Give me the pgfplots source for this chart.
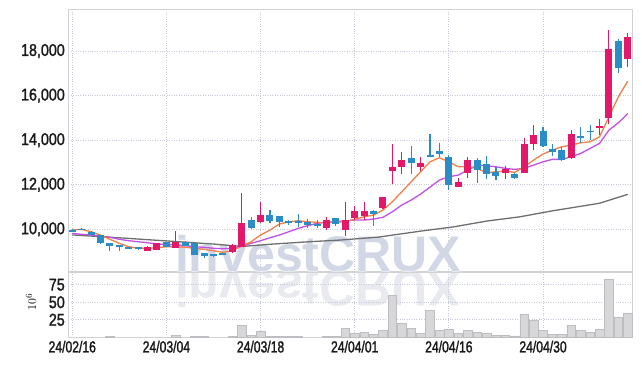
\documentclass[border=0pt]{standalone}
\usepackage{pgfplots}
\pgfplotsset{compat=1.18}
\usepackage{pgfplotstable}
\usepackage{fontspec}
\setmainfont{Liberation Sans}
\newfontfamily\xtickfont{Liberation Sans}[FakeStretch=0.76, FakeBold=1.5]
\newfontfamily\ytickfont{Liberation Sans}[FakeStretch=0.84, FakeBold=1.5]
\newfontfamily\wmfont{Liberation Sans}
\definecolor{upc}{HTML}{E2186A}
\definecolor{dnc}{HTML}{2B8DC6}
\definecolor{maA}{HTML}{EE8048}
\definecolor{maB}{HTML}{C24FE6}
\definecolor{maC}{HTML}{6E6E6E}
\definecolor{gridc}{HTML}{C6CAD8}
\definecolor{framec}{HTML}{D2D2D2}
\definecolor{volf}{HTML}{D7D7DA}
\definecolor{vold}{HTML}{BDBDC2}
\definecolor{wm}{HTML}{D2D7E6}
\definecolor{wmr}{HTML}{E8EAF0}

\pgfplotstableread{
i O H L C
8 9050 9230 9040 9210
9 9080 9390 9070 9370
11 9180 9920 9170 9440
17 9000 9330 8950 9300
18 9220 11640 9200 10300
20 10340 11240 10270 10640
27 10050 10570 9980 10420
29 9950 11240 9700 10420
30 10520 11040 10420 10830
31 10600 11210 10420 10820
33 10940 11440 10900 11430
34 12630 13810 12030 12780
35 12780 13450 12480 13100
37 12810 13250 12610 12970
41 11910 12290 11880 12120
42 12510 13230 12290 13090
46 12510 12820 12240 12700
48 12540 14080 12520 13820
49 13850 14660 13580 14230
53 13180 14480 13160 14300
56 14550 14970 14220 14640
57 15000 18940 14720 18110
59 17650 18830 17290 18640
}\upTable

\pgfplotstableread{
i O H L C
0 9990 10010 9880 9900
1 10030 10060 9950 9960
2 9900 9930 9720 9740
3 9740 9750 9330 9370
4 9370 9390 9040 9230
5 9290 9300 9040 9210
6 9210 9220 9110 9140
7 9190 9200 9090 9100
10 9420 9440 9190 9200
12 9440 9460 9240 9250
13 9370 9400 8840 8850
14 8920 8930 8700 8820
15 8900 8910 8760 8810
16 8930 8940 8850 8900
19 10420 10570 10000 10050
21 10640 10870 10300 10380
22 10600 10620 10120 10350
23 10380 10430 10200 10280
24 10370 10680 10120 10320
25 10330 10480 10080 10200
26 10240 10420 10060 10130
28 10500 10530 10150 10230
32 10820 10850 10150 10690
36 13210 13730 12480 12960
38 13330 14260 13250 13290
39 13510 13860 13250 13360
40 13260 13350 11760 11970
43 13090 13180 12100 12660
44 12930 13290 12240 12480
45 12570 12780 12210 12410
47 12480 12520 12280 12290
50 14400 14600 13700 13750
51 13600 13820 13280 13480
52 13550 13700 13060 13090
54 14180 14600 13880 14080
55 14420 14700 14000 14390
58 18440 18560 17000 17250
}\downTable

\pgfplotstableread{
i V
4 0.8
11 2.8
13 1.2
14 1.2
17 1.0
18 17.0
19 2.5
20 8.9
21 1.2
22 1.2
23 1.2
24 1.2
27 1.4
28 1.4
29 12.7
30 5.6
31 7.5
32 4.2
33 9.9
34 59.7
35 19.8
36 12.7
37 5.6
38 38.6
39 9.9
40 11.3
41 5.6
42 9.9
43 7.5
44 5.6
45 3.3
46 3.3
47 1.9
48 32.9
49 24.0
50 9.9
51 4.7
52 4.7
53 16.9
54 9.9
55 7.5
56 11.3
57 83.0
58 28.0
59 35.0
}\volTable

\begin{document}
\begin{tikzpicture}
\useasboundingbox (0,0) rectangle (642pt,366pt);
\pgfplotsset{
  common/.style={
    scale only axis, width=563.7pt, anchor=south west,
    xmin=-0.42, xmax=59.45,
    axis line style={framec, line width=0.8pt},
    major tick length=0pt,
    xtick={0,10,20,30,40,50},
    scaled x ticks=false, scaled y ticks=false,
    grid=major,
    major grid style={gridc, dotted, line width=0.8pt},
  },
  wick/.style={draw=none, mark=none, forget plot,
    error bars/.cd, y dir=both, y explicit, error mark=none,
    error bar style={draw=#1, line width=1.1pt, line cap=butt}},
  body/.style={draw=none, mark=none, forget plot,
    error bars/.cd, y dir=both, y explicit, error mark=none,
    error bar style={draw=#1, line width=7pt, line cap=butt}},
}
% price panel
\begin{axis}[common, at={(68.3pt,94.5pt)}, height=262pt,
  ymin=8108, ymax=19865,
  ytick={10000,12000,14000,16000,18000},
  yticklabels={{10,000},{12,000},{14,000},{16,000},{18,000}},
  yticklabel style={font=\ytickfont\fontsize{17}{17}\selectfont, text=black!90},
  xticklabels={},
  clip=false]
\node[anchor=base west, inner sep=0pt, text=wm,
  font=\wmfont\bfseries\fontsize{50}{50}\selectfont] at (axis cs:10.9,8130) {investCRUX};
\node[anchor=base west, inner sep=0pt, text=wmr, yscale=-1,
  font=\wmfont\bfseries\fontsize{50}{50}\selectfont] at (axis cs:10.9,8090) {investCRUX};
\addplot[maC, line width=1.3pt, line join=round] coordinates {
(0,9750)(5,9620)(10,9480)(15,9340)(18,9230)(21,9330)(25,9440)(28.5,9520)(32.5,9650)(37,9920)(40.5,10110)(44,10370)(47.5,10560)(51,10830)(56,11170)(59,11570)};
\addplot[maB, line width=1.3pt, line join=round] coordinates {
(0,9821)(1,9776)(2,9744)(3,9700)(4,9641)(5,9552)(6,9489)(7,9444)(8,9399)(9,9341)(10,9327)(11,9296)(12,9265)(13,9220)(14,9193)(15,9148)(16,9130)(17,9148)(18,9251)(19,9372)(20,9489)(21,9623)(22,9744)(23,9892)(24,10045)(25,10161)(26,10269)(27,10314)(28,10341)(29,10386)(30,10417)(31,10417)(32,10462)(33,10538)(34,10789)(35,11090)(36,11314)(37,11583)(38,11897)(39,12211)(40,12359)(41,12435)(42,12659)(43,12883)(44,12852)(45,12807)(46,12735)(47,12690)(48,12735)(49,12883)(50,13031)(51,13139)(52,13139)(53,13255)(54,13408)(55,13632)(56,13856)(57,14453)(58,14780)(59,15201)};
\addplot[maA, line width=1.3pt, line join=round] coordinates {
(0,9969)(1,10000)(2,9892)(3,9744)(4,9552)(5,9372)(6,9220)(7,9148)(8,9148)(9,9175)(10,9220)(11,9220)(12,9193)(13,9148)(14,9103)(15,9040)(16,8969)(17,9040)(18,9251)(19,9444)(20,9744)(21,9969)(22,10238)(23,10341)(24,10386)(25,10341)(26,10314)(27,10296)(28,10327)(29,10341)(30,10448)(31,10565)(32,10641)(33,10865)(34,11238)(35,11686)(36,12134)(37,12583)(38,13031)(39,13211)(40,13031)(41,12807)(42,12807)(43,12735)(44,12538)(45,12583)(46,12614)(47,12556)(48,12807)(49,13107)(50,13376)(51,13556)(52,13704)(53,13780)(54,13883)(55,13928)(56,14152)(57,15049)(58,15946)(59,16650)};
\addplot[wick=upc] table[x=i, y expr={(\thisrow{H}+\thisrow{L})/2}, y error expr={(\thisrow{H}-\thisrow{L})/2}] {\upTable};
\addplot[wick=dnc] table[x=i, y expr={(\thisrow{H}+\thisrow{L})/2}, y error expr={(\thisrow{H}-\thisrow{L})/2}] {\downTable};
\addplot[body=upc] table[x=i, y expr={(\thisrow{O}+\thisrow{C})/2}, y error expr={max(abs(\thisrow{C}-\thisrow{O})/2,25)}] {\upTable};
\addplot[body=dnc] table[x=i, y expr={(\thisrow{O}+\thisrow{C})/2}, y error expr={max(abs(\thisrow{C}-\thisrow{O})/2,25)}] {\downTable};
\end{axis}
% volume panel
\begin{axis}[common, at={(68.3pt,28.7pt)}, height=65pt,
  ymin=0, ymax=92.7,
  ytick={25,50,75},
  yticklabels={25,50,75},
  yticklabel style={font=\ytickfont\fontsize{17}{17}\selectfont, text=black!90},
  xticklabels={24/02/16,24/03/04,24/03/18,24/04/01,24/04/16,24/04/30},
  xticklabel style={font=\xtickfont\fontsize{16}{16}\selectfont, text=black!90},
  clip=false]
\addplot[ybar, bar width=8.6pt, fill=volf, draw=vold, line width=0.5pt] table[x=i, y=V] {\volTable};
\node[rotate=90, anchor=center, font=\fontsize{13}{13}\selectfont] at (axis description cs:-0.066,0.54) {$10^6$};
\end{axis}
\end{tikzpicture}
\end{document}
